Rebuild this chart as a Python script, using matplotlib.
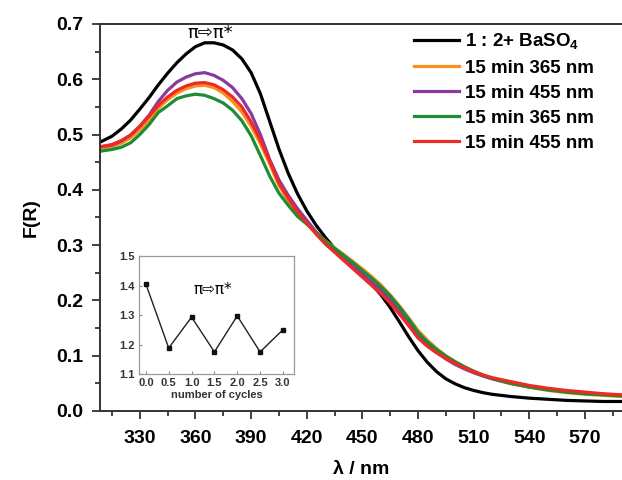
import numpy as np
import matplotlib.pyplot as plt
from matplotlib.ticker import MultipleLocator

plt.rcParams['font.family'] = ['Liberation Sans', 'DejaVu Sans']
plt.rcParams['mathtext.fontset'] = 'custom'
plt.rcParams['mathtext.rm'] = 'Liberation Sans'
plt.rcParams['mathtext.bf'] = 'Liberation Sans:bold'

""" Data (read off the reference) """
wl = [309, 315, 320, 325, 330, 335, 340, 345, 350, 355, 360, 365, 370, 375,
      380, 385, 390, 395, 400, 405, 410, 415, 420, 425, 430, 435, 440, 445,
      450, 455, 460, 465, 470, 475, 480, 485, 490, 495, 500, 505, 510, 515,
      520, 530, 540, 550, 560, 570, 580, 590]

f_ref = [0.487, 0.497, 0.510, 0.526, 0.546, 0.567, 0.590, 0.611, 0.630, 0.646,
         0.659, 0.666, 0.666, 0.662, 0.653, 0.637, 0.612, 0.574, 0.524, 0.474,
         0.430, 0.393, 0.362,
         0.336, 0.314, 0.294, 0.277, 0.261, 0.245, 0.229, 0.210, 0.187, 0.161,
         0.134, 0.109, 0.088, 0.071, 0.058, 0.049, 0.042, 0.037, 0.033, 0.030,
         0.026, 0.023, 0.021, 0.019, 0.018, 0.017, 0.017]

f_365a = [0.475, 0.478, 0.484, 0.494, 0.508, 0.526, 0.548, 0.563, 0.575, 0.583,
          0.588, 0.589, 0.585, 0.575, 0.560, 0.541, 0.515, 0.483, 0.447, 0.408,
          0.380, 0.357, 0.339,
          0.323, 0.308, 0.295, 0.283, 0.270, 0.257, 0.243, 0.228, 0.210, 0.190,
          0.168, 0.146, 0.128, 0.113, 0.100, 0.089, 0.079, 0.071, 0.064, 0.058,
          0.049, 0.043, 0.037, 0.033, 0.030, 0.028, 0.026]

f_455a = [0.478, 0.481, 0.488, 0.499, 0.515, 0.535, 0.560, 0.580, 0.595, 0.604,
          0.610, 0.612, 0.607, 0.598, 0.585, 0.565, 0.538, 0.500, 0.455, 0.418,
          0.390, 0.366, 0.345,
          0.324, 0.306, 0.290, 0.276, 0.262, 0.248, 0.233, 0.219, 0.201, 0.180,
          0.158, 0.137, 0.120, 0.106, 0.094, 0.084, 0.076, 0.069, 0.063, 0.058,
          0.050, 0.044, 0.039, 0.035, 0.032, 0.030, 0.028]

f_365b = [0.470, 0.473, 0.477, 0.485, 0.500, 0.518, 0.540, 0.552, 0.565, 0.570,
          0.573, 0.571, 0.565, 0.557, 0.544, 0.525, 0.498, 0.462, 0.425, 0.394,
          0.372, 0.352, 0.338,
          0.322, 0.307, 0.294, 0.281, 0.268, 0.254, 0.240, 0.225, 0.208, 0.188,
          0.166, 0.142, 0.125, 0.111, 0.099, 0.089, 0.080, 0.072, 0.065, 0.059,
          0.050, 0.043, 0.038, 0.034, 0.031, 0.029, 0.027]

f_455b = [0.478, 0.482, 0.489, 0.499, 0.515, 0.533, 0.553, 0.568, 0.580, 0.588,
          0.593, 0.594, 0.590, 0.581, 0.568, 0.550, 0.523, 0.490, 0.452, 0.412,
          0.385, 0.360, 0.340,
          0.320, 0.302, 0.287, 0.272, 0.257, 0.242, 0.227, 0.212, 0.195, 0.175,
          0.154, 0.132, 0.117, 0.105, 0.095, 0.086, 0.078, 0.071, 0.065, 0.060,
          0.053, 0.046, 0.041, 0.037, 0.034, 0.031, 0.029]

labels = ['1 : 2+ BaSO$_\\mathbf{4}$', '15 min 365 nm', '15 min 455 nm',
          '15 min 365 nm', '15 min 455 nm']
colors = ['#000000', '#f7901e', '#8a3a9e', '#1e8c33', '#ee2a24']

xticks = [330, 360, 390, 420, 450, 480, 510, 540, 570]
yticks = [0.0, 0.1, 0.2, 0.3, 0.4, 0.5, 0.6, 0.7]

# inset: intensity vs cycles
cycles = [0.0, 0.5, 1.0, 1.5, 2.0, 2.5, 3.0]
inset_val = [1.405, 1.188, 1.293, 1.175, 1.297, 1.175, 1.250]
inset_yticks = [1.1, 1.2, 1.3, 1.4, 1.5]

""" Plotting """
fig = plt.figure(figsize=(6.22, 4.8), dpi=100)
ax = fig.add_axes([0.161, 0.144, 0.839, 0.806])

for y, lab, col in zip([f_ref, f_365a, f_455a, f_365b, f_455b], labels, colors):
    ax.plot(wl, y, color=col, lw=2.3, label=lab, solid_joinstyle='round')

ax.set_xlim(308.6, 590)
ax.set_ylim(0, 0.7)
ax.set_xticks(xticks)
ax.set_xticklabels([str(v) for v in xticks], fontweight='bold')
ax.set_yticks(yticks)
ax.set_yticklabels(['%.1f' % v for v in yticks], fontweight='bold')
ax.xaxis.set_minor_locator(MultipleLocator(15))
ax.yaxis.set_minor_locator(MultipleLocator(0.05))
ax.tick_params(which='both', direction='out', width=1.3, color='#333333')
ax.tick_params(which='major', length=6, labelsize=14, pad=6)
ax.tick_params(which='minor', length=3.5)
ax.tick_params(axis='x', which='major', pad=8)
for s in ['left', 'bottom', 'top']:
    ax.spines[s].set_linewidth(1.4)
    ax.spines[s].set_color('#333333')
ax.spines['right'].set_visible(False)

ax.set_xlabel('λ / nm', fontsize=14, fontweight='bold', labelpad=10)
ax.set_ylabel('F(R)', fontsize=14, fontweight='bold', labelpad=12)

ax.text(368, 0.684, 'π⇨π*', fontsize=13, ha='center', va='center',
        family=['DejaVu Sans'])

ax.legend(loc='upper left', bbox_to_anchor=(0.665, 0.934),
          bbox_transform=fig.transFigure, frameon=False,
          prop={'family': 'Liberation Sans', 'weight': 'bold', 'size': 13.5},
          handlelength=2.4, handletextpad=0.35, labelspacing=0.42,
          borderpad=0, borderaxespad=0)

# inset
ins = fig.add_axes([0.2235, 0.2208, 0.249, 0.2458])
ins.plot(cycles, inset_val, color='#222222', lw=1.0, marker='s', ms=3.5,
         mfc='#111111', mec='#111111')
ins.set_xlim(-0.15, 3.24)
ins.set_ylim(1.1, 1.5)
ins.set_xticks(cycles)
ins.set_xticklabels(['%.1f' % v for v in cycles], fontweight='bold')
ins.set_yticks(inset_yticks)
ins.set_yticklabels(['%.1f' % v for v in inset_yticks], fontweight='bold')
ins.tick_params(labelsize=8, length=2, width=0.8, direction='in',
                color='#888888', labelcolor='#333333', pad=3)
for s in ins.spines.values():
    s.set_color('#999999')
    s.set_linewidth(0.9)
ins.set_xlabel('number of cycles', fontsize=8, fontweight='bold',
               color='#333333', labelpad=1)
ins.text(1.47, 1.385, 'π⇨π*', fontsize=11, ha='center', va='center',
         family=['DejaVu Sans'])

plt.savefig('out.png', dpi=100)
